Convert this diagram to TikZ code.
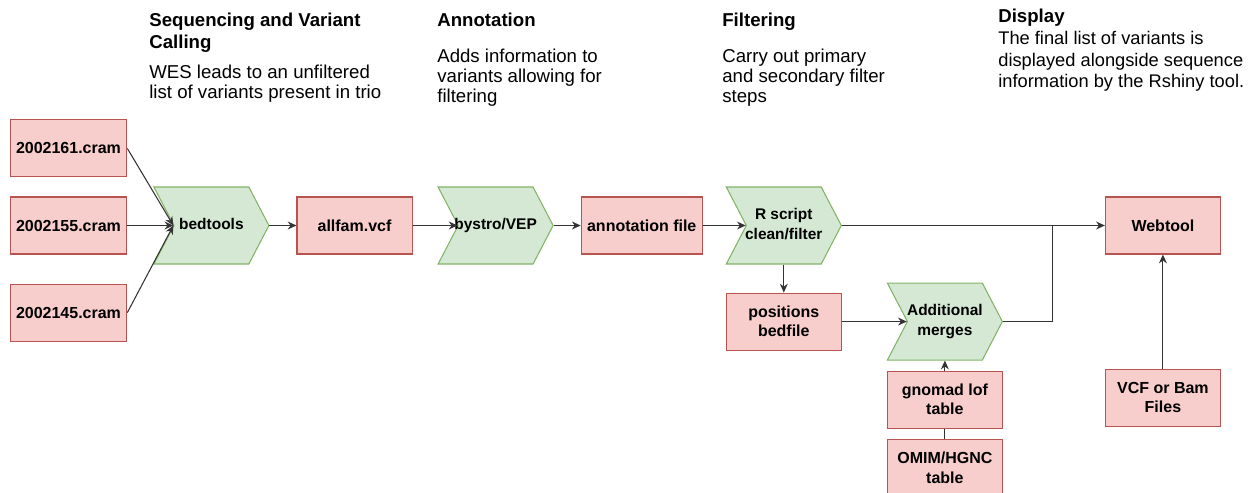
\documentclass[tikz,border=0pt]{standalone}
\usepackage{fontspec}
\setmainfont{Liberation Sans}
\usepackage{tikz}
\usetikzlibrary{arrows.meta,positioning,shapes.symbols}
\definecolor{filefill}{HTML}{F8CECC}
\definecolor{fileline}{HTML}{B85450}
\definecolor{toolfill}{HTML}{D5E8D4}
\definecolor{toolline}{HTML}{82B366}
\definecolor{wire}{HTML}{333333}
% text of a chevron step, kept from widening the shape
\newcommand{\steptext}[1]{\hbox to 0pt{\hss\begin{tabular}{@{}c@{}}#1\end{tabular}\hss}}

\begin{document}
\begin{tikzpicture}[>={Stealth[length=5pt,width=4.5pt]},node distance=0.54cm]
  \tikzstyle{filebox}=[draw=fileline,fill=filefill,line width=0.6pt,align=center,minimum width=2.3cm,minimum height=1.14cm,font=\bfseries\fontsize{9.1}{11}\selectfont]
  \tikzstyle{toolstep}=[signal,signal from=west,signal to=east,signal pointer angle=125,draw=toolline,fill=toolfill,line width=0.6pt,inner xsep=0pt,minimum width=2.3cm,minimum height=1.54cm,font=\bfseries\fontsize{8.8}{11}\selectfont]
  \tikzstyle{stagehead}=[anchor=north west,inner sep=0pt,align=left,font=\bfseries\fontsize{10.6}{12.8}\selectfont]
  \tikzstyle{stagetext}=[anchor=north west,inner sep=0pt,align=left,font=\fontsize{10.6}{11.4}\selectfont]
  \tikzstyle{wirestyle}=[draw=wire,line width=0.6pt]
  \useasboundingbox (0,0) rectangle (25.2,-9.84);
  % stage captions
  \node[stagehead] (seqhead) at (2.98,-0.25) {Sequencing and Variant\\Calling};
  \node[stagetext] (seqtext) at (2.98,-1.29) {WES leads to an unfiltered\\list of variants present in trio};
  \node[stagehead] (annhead) at (8.74,-0.25) {Annotation};
  \node[stagetext] (anntext) at (8.74,-0.97) {Adds information to\\variants allowing for\\filtering};
  \node[stagehead] (filhead) at (14.44,-0.25) {Filtering};
  \node[stagetext] (filtext) at (14.44,-0.97) {Carry out primary\\and secondary filter\\steps};
  \node[stagehead] (dishead) at (19.96,-0.17) {Display};
  \node[stagetext,font=\fontsize{10.4}{12.2}\selectfont] (distext) at (19.96,-0.62) {The final list of variants is\\displayed alongside sequence\\information by the Rshiny tool.};
  % main row
  \node[filebox] (cramb) at (1.37,-4.51) {2002155.cram};
  \node[filebox,above=0.38cm of cramb] (crama) {2002161.cram};
  \node[filebox,below=0.58cm of cramb] (cramc) {2002145.cram};
  \node[toolstep,right=0.92cm of cramb] (bedtools) {\steptext{bedtools}};
  \node[filebox,right=of bedtools] (allfam) {allfam.vcf};
  \node[toolstep,right=0.9cm of allfam] (bystro) {\steptext{bystro/VEP}};
  \node[filebox,right=of bystro] (annot) {annotation file};
  \node[toolstep,right=0.86cm of annot] (rscript) {\steptext{R script\\clean/filter}};
  \node[filebox,below=0.56cm of rscript] (posbed) {positions\\bedfile};
  \node[toolstep,right=1.3cm of posbed] (merges) {\steptext{Additional\\merges}};
  \node[filebox,below=0.2cm of merges] (gnomad) {gnomad lof\\table};
  \node[filebox,below=0.2cm of gnomad] (omim) {OMIM/HGNC\\table};
  \node[filebox,right=5.26cm of rscript] (webtool) {Webtool};
  \node[filebox,below=2.28cm of webtool] (vcfbam) {VCF or Bam\\Files};
  \coordinate[left=1.04cm of webtool.west] (joinpt);
  % connectors
  \draw[wirestyle,->] (crama.east) -- (bedtools.west);
  \draw[wirestyle,->] (cramb.east) -- (bedtools.west);
  \draw[wirestyle,->] (cramc.east) -- (bedtools.west);
  \draw[wirestyle,->] (bedtools.east) -- (allfam);
  \draw[wirestyle,->] (allfam) -- (bystro.west);
  \draw[wirestyle,->] (bystro.east) -- (annot);
  \draw[wirestyle,->] (annot) -- (rscript.west);
  \draw[wirestyle,->] (rscript.east) -- (webtool);
  \draw[wirestyle,->] (rscript) -- (posbed);
  \draw[wirestyle,->] (posbed) -- (merges.west);
  \draw[wirestyle] (merges.east) -| (joinpt);
  \draw[wirestyle,->] (gnomad) -- (merges);
  \draw[wirestyle] (omim) -- (gnomad);
  \draw[wirestyle,->] (vcfbam) -- (webtool);
\end{tikzpicture}
\end{document}
